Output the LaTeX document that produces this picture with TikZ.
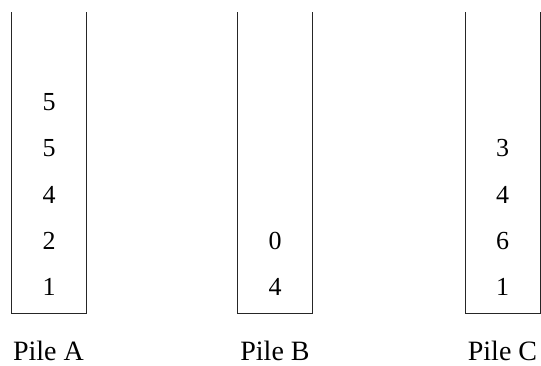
\documentclass[tikz,border=0pt]{standalone}
\usepackage{fontspec}
\setmainfont{Liberation Serif}
\begin{document}
\begin{tikzpicture}[x=1pt,y=-1pt,
  pile/.style={draw=black!85, line width=1pt},
  num/.style={font=\fontsize{26}{30}\selectfont, inner sep=0pt, anchor=center},
  lbl/.style={font=\fontsize{28}{32}\selectfont, inner sep=0pt, anchor=base}]
\useasboundingbox (0,0) rectangle (541,365);
% piles
\coordinate (Atl) at (11.5,12); \coordinate (Abr) at (86.5,313.5);
\coordinate (Btl) at (237.5,12); \coordinate (Bbr) at (312.5,313.5);
\coordinate (Ctl) at (465,12); \coordinate (Cbr) at (540,313.5);
\draw[pile] (Atl) |- (Abr) -- (86.5,12);
\draw[pile] (Btl) |- (Bbr) -- (312.5,12);
\draw[pile] (Ctl) |- (Cbr) -- (540,12);
% Pile A
\node[num] (a1) at (49,287) {1};
\node[num] (a2) at (49,241) {2};
\node[num] (a3) at (49,195) {4};
\node[num] (a4) at (49,148) {5};
\node[num] (a5) at (49,102) {5};
% Pile B
\node[num] (b1) at (275,287) {4};
\node[num] (b2) at (275,241) {0};
% Pile C
\node[num] (c1) at (502.5,287) {1};
\node[num] (c2) at (502.5,241) {6};
\node[num] (c3) at (502.5,195) {4};
\node[num] (c4) at (502.5,148) {3};
% labels
\node[lbl] (la) at (48.5,360) {Pile A};
\node[lbl] (lb) at (275,360) {Pile B};
\node[lbl] (lc) at (502.5,360) {Pile C};
\end{tikzpicture}
\end{document}
